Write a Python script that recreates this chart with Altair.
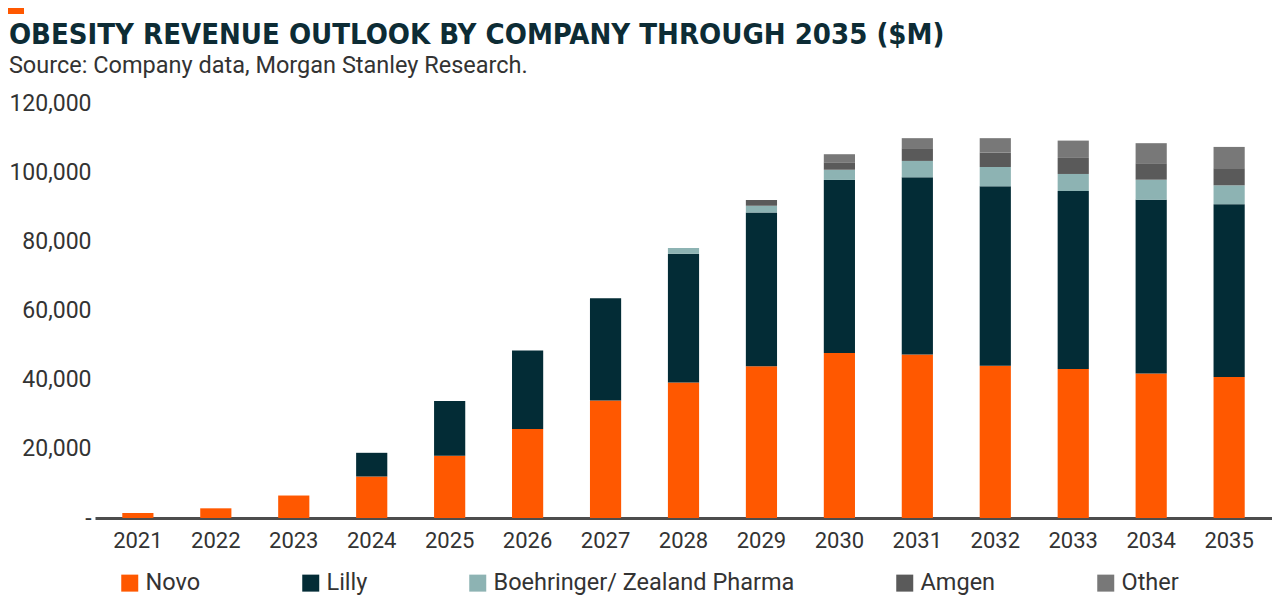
import altair as alt
import pandas as pd

years = [str(y) for y in range(2021, 2036)]
companies = ["Novo", "Lilly", "Boehringer/ Zealand Pharma", "Amgen", "Other"]
novo = [1450, 2800, 6500, 12000, 18000, 25750, 33950, 39200, 43900, 47700, 47300, 44000, 43100, 41800, 40800]
lilly = [0, 0, 0, 6850, 15800, 22650, 29600, 37200, 44450, 50050, 51200, 51900, 51450, 50200, 49950]
boehringer = [0, 0, 0, 0, 0, 0, 0, 1650, 1930, 2950, 4750, 5600, 4930, 5820, 5450]
amgen = [0, 0, 0, 0, 0, 0, 0, 0, 1660, 2150, 3680, 4150, 4640, 4760, 4950]
other = [0, 0, 0, 0, 0, 0, 0, 0, 0, 2340, 2900, 4180, 5010, 5800, 6150]
colors = ["#FF5800", "#032C36", "#8DB3B3", "#5A5A5A", "#787878"]

series = [novo, lilly, boehringer, amgen, other]
rows = []
for ci, (name, vals) in enumerate(zip(companies, series)):
    for y, v in zip(years, vals):
        rows.append({"year": y, "company": name, "value": v, "order": ci})
df = pd.DataFrame(rows)

bars = alt.Chart(df).transform_filter("datum.value > 0").mark_bar().encode(
    x=alt.X("year:N", sort=years,
            scale=alt.Scale(paddingInner=0.6, paddingOuter=0.35),
            axis=alt.Axis(title=None, labelAngle=0, labelFont="Roboto", labelFontSize=22,
                          labelColor="#333333", labelPadding=12, ticks=False,
                          domainColor="#4D4D4D", domainWidth=3)),
    y=alt.Y("value:Q", stack="zero",
            scale=alt.Scale(domain=[0, 120000], nice=False),
            axis=alt.Axis(title=None, values=[0, 20000, 40000, 60000, 80000, 100000, 120000],
                          labelExpr="datum.value == 0 ? '-' : format(datum.value, ',')",
                          labelFont="Roboto", labelFontSize=23, labelColor="#333333",
                          labelPadding=4, ticks=False, domain=False, grid=False)),
    color=alt.Color("company:N", sort=companies,
                    scale=alt.Scale(domain=companies, range=colors),
                    legend=alt.Legend(title=None, orient="none", direction="horizontal",
                                      legendX=23, legendY=563, symbolType="square",
                                      symbolSize=289, symbolStrokeWidth=0,
                                      labelFont="Roboto", labelFontSize=23.5,
                                      labelColor="#333333", columnPadding=98,
                                      labelLimit=400, symbolOpacity=1)),
    order=alt.Order("order:Q"),
).properties(
    width=1177, height=415,
    title=alt.TitleParams(
        text="OBESITY REVENUE OUTLOOK BY COMPANY THROUGH 2035 ($M)",
        subtitle="Source: Company data, Morgan Stanley Research.",
        anchor="start", frame="bounds",
        font="DejaVu Sans Condensed", fontSize=29, fontWeight="bold", color="#0D2C35",
        subtitleFont="Roboto", subtitleFontSize=23.5, subtitleColor="#333333",
        subtitlePadding=4, offset=15,
    ),
)

accent = alt.Chart(alt.Data(values=[{"k": 1}])).mark_rect(color="#FF5800").encode(
    x=alt.value(-87), x2=alt.value(-71), y=alt.value(0), y2=alt.value(6)
).properties(width=16, height=6)

chart = alt.ConcatChart(concat=[accent, bars], columns=1, spacing=6).configure_view(
    stroke=None
).properties(
    padding={"left": 0, "top": 0, "right": 0, "bottom": 0}
)

chart.save("out.html", embed_options={"renderer": "svg", "actions": False})
